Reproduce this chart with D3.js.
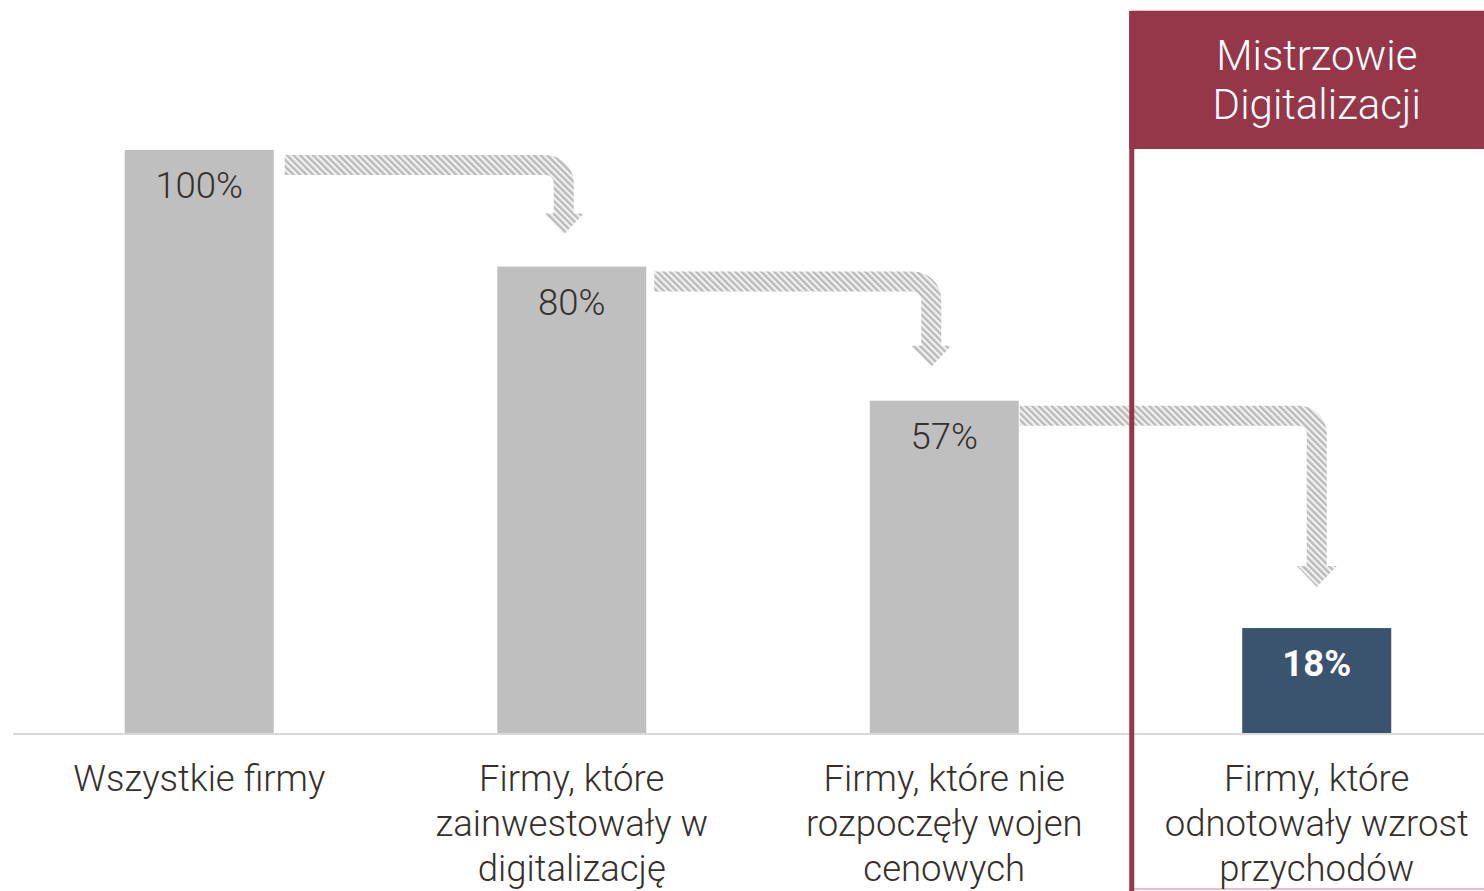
<!DOCTYPE html>
<html>
<head>
<meta charset="utf-8">
<script src="https://cdn.jsdelivr.net/npm/d3@7"></script>
<style>
  html, body { margin: 0; padding: 0; background: #ffffff; }
  svg { display: block; }
  text { font-family: "Roboto", "Liberation Sans", sans-serif; }
</style>
</head>
<body>
<svg id="chart" width="1484" height="891"></svg>
<script>
// Share of firms at each stage of the digitalisation funnel (%)
const categories = ["all", "invested", "noPriceWar", "revenueGrowth"];
const values = [100, 80, 57, 18];
const valueLabels = ["100%", "80%", "57%", "18%"];
const categoryLabels = [
  ["Wszystkie firmy"],
  ["Firmy, które", "zainwestowały w", "digitalizację"],
  ["Firmy, które nie", "rozpoczęły wojen", "cenowych"],
  ["Firmy, które", "odnotowały wzrost", "przychodów"]
];
const highlightTitle = ["Mistrzowie", "Digitalizacji"];

const W = 1484, H = 891;
const svg = d3.select("#chart");

const x = d3.scaleBand()
  .domain(categories)
  .range([13, 1503])
  .paddingInner(0.6)
  .paddingOuter(0.3);

const y = d3.scaleLinear().domain([0, 100]).range([733, 150]);

// Hatched fill for the connecting arrows
const defs = svg.append("defs");
const pat = defs.append("pattern")
  .attr("id", "hatch")
  .attr("patternUnits", "userSpaceOnUse")
  .attr("width", 4.6)
  .attr("height", 4.6)
  .attr("patternTransform", "rotate(-45)");
pat.append("rect").attr("width", 4.6).attr("height", 4.6).attr("fill", "#f2f2f2");
pat.append("line")
  .attr("x1", 1.2).attr("y1", 0).attr("x2", 1.2).attr("y2", 4.6)
  .attr("stroke", "#bababa").attr("stroke-width", 2.4);

// Highlight panel for the last group
const last = categories[categories.length - 1];
const panelX = x(last) - 113;
const panel = svg.append("g");
panel.append("rect")
  .attr("x", panelX + 2).attr("y", 11)
  .attr("width", W - panelX + 10).attr("height", H - 13)
  .attr("fill", "none")
  .attr("stroke", "#dfa9b6").attr("stroke-width", 1.5);

// Baseline
svg.append("line")
  .attr("x1", 13).attr("x2", W)
  .attr("y1", y(0) + 1).attr("y2", y(0) + 1)
  .attr("stroke", "#d9d9d9").attr("stroke-width", 2);

panel.append("rect")
  .attr("x", panelX).attr("y", 11)
  .attr("width", W - panelX).attr("height", 138)
  .attr("fill", "#953749");

panel.append("text")
  .attr("text-anchor", "middle")
  .attr("fill", "#ffffff")
  .attr("font-size", 42)
  .attr("font-weight", 300)
  .selectAll("tspan")
  .data(highlightTitle)
  .join("tspan")
  .attr("x", x(last) + x.bandwidth() / 2)
  .attr("y", (d, i) => 70 + i * 49)
  .text(d => d);

// Bars
const bars = categories.map((c, i) => ({ c, v: values[i], label: valueLabels[i], i }));
svg.append("g").selectAll("rect")
  .data(bars)
  .join("rect")
  .attr("x", d => x(d.c))
  .attr("y", d => y(d.v))
  .attr("width", x.bandwidth())
  .attr("height", d => y(0) - y(d.v))
  .attr("fill", d => d.c === last ? "#3a5470" : "#bfbfbf");

// Value labels inside bars
svg.append("g").selectAll("text")
  .data(bars)
  .join("text")
  .attr("x", d => x(d.c) + x.bandwidth() / 2)
  .attr("y", d => y(d.v) + 48)
  .attr("text-anchor", "middle")
  .attr("font-size", 36.5)
  .attr("font-weight", d => d.c === last ? 700 : 300)
  .attr("fill", d => d.c === last ? "#ffffff" : "#35302c")
  .text(d => d.label);

// Category labels below the baseline
svg.append("g").selectAll("text")
  .data(bars)
  .join("text")
  .attr("text-anchor", "middle")
  .attr("font-size", 36.5)
  .attr("font-weight", 300)
  .attr("fill", "#35302c")
  .each(function(d) {
    d3.select(this).selectAll("tspan")
      .data(categoryLabels[d.i])
      .join("tspan")
      .attr("x", x(d.c) + x.bandwidth() / 2)
      .attr("y", (t, j) => 791 + j * 45)
      .text(t => t);
  });

// Curved hatched arrows linking consecutive bars
const shaft = 20, headHalf = 20, headLen = 21, R = 28, r = R - shaft;
const startGap = [11, 8, 1];
const targetShift = [-8, -13, 0];
const tipGap = [32, 34, 41];
const arrowPath = (i) => {
  const x0 = x(categories[i]) + x.bandwidth() + startGap[i];
  const yt = y(values[i]) + 5;
  const cx = x(categories[i + 1]) + x.bandwidth() / 2 + targetShift[i];
  const tip = y(values[i + 1]) - tipGap[i];
  const p = d3.path();
  p.moveTo(x0, yt);
  p.lineTo(cx + shaft / 2 - R, yt);
  p.arcTo(cx + shaft / 2, yt, cx + shaft / 2, yt + R, R);
  p.lineTo(cx + shaft / 2, tip - headLen);
  p.lineTo(cx + headHalf, tip - headLen);
  p.lineTo(cx, tip);
  p.lineTo(cx - headHalf, tip - headLen);
  p.lineTo(cx - shaft / 2, tip - headLen);
  p.lineTo(cx - shaft / 2, yt + shaft + r);
  p.arcTo(cx - shaft / 2, yt + shaft, cx - shaft / 2 - r, yt + shaft, r);
  p.lineTo(x0, yt + shaft);
  p.closePath();
  return p.toString();
};
svg.append("g").selectAll("path")
  .data(d3.range(categories.length - 1))
  .join("path")
  .attr("d", i => arrowPath(i))
  .attr("fill", "url(#hatch)");

// Panel edge drawn on top of the arrow that crosses it
svg.append("rect")
  .attr("x", panelX).attr("y", 11)
  .attr("width", 5).attr("height", H - 11)
  .attr("fill", "#953749");
</script>
</body>
</html>
